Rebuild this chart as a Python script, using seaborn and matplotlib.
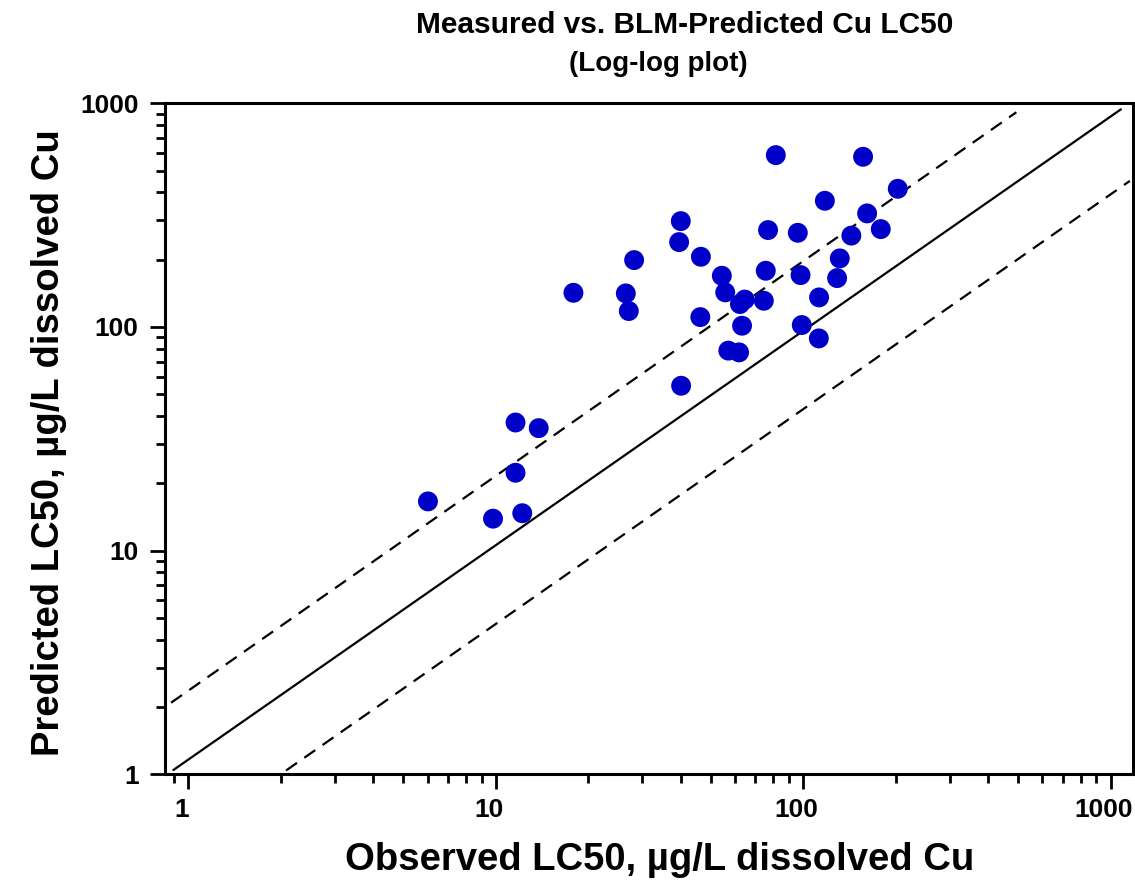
import matplotlib
matplotlib.use("Agg")
import matplotlib.pyplot as plt
import matplotlib.transforms as mtransforms
from matplotlib.ticker import LogLocator, FuncFormatter, NullFormatter
import pandas as pd
import seaborn as sns

# observed vs predicted LC50 (ug/L dissolved Cu)
observed = [81.5, 156.7, 203.2, 117.7, 40.0, 76.9, 96.1, 161.5, 178.9, 143.5,
            39.5, 28.2, 46.5, 131.6, 17.9, 26.5, 54.4, 75.6, 98.1, 129.0,
            55.8, 64.6, 62.3, 74.5, 112.7, 27.1, 46.3, 63.3, 99.0, 112.5,
            57.1, 61.9, 40.1, 11.6, 13.8, 11.6, 6.02, 9.8, 12.2]
predicted = [586.6, 576.6, 414.8, 366.6, 297.4, 271.2, 263.7, 321.9, 273.9, 256.2,
             239.6, 199.1, 206.0, 202.6, 142.2, 141.3, 169.4, 178.4, 170.6, 165.4,
             142.8, 132.6, 126.6, 131.0, 135.6, 117.8, 110.7, 101.3, 102.0, 88.9,
             78.4, 77.0, 54.6, 37.4, 35.3, 22.3, 16.6, 13.9, 14.7]

# reference lines (1:1 and factor of two), end points as drawn
line_1to1_x = [0.894, 1081]
line_1to1_y = [1.045, 940]
line_upper_x = [0.879, 494]
line_upper_y = [2.09, 912]
line_lower_x = [2.08, 1156]
line_lower_y = [1.04, 450]

x_ticks = [1, 10, 100, 1000]
y_ticks = [1, 10, 100, 1000]

df = pd.DataFrame({"observed": observed, "predicted": predicted})

sns.set_style("ticks")
plt.rcParams["font.family"] = ["Liberation Sans", "DejaVu Sans"]
plt.rcParams["font.weight"] = "bold"
plt.rcParams["text.color"] = "black"
plt.rcParams["axes.labelcolor"] = "black"
plt.rcParams["xtick.color"] = "black"
plt.rcParams["ytick.color"] = "black"

fig = plt.figure(figsize=(11.35, 8.83), dpi=100)
ax = fig.add_axes([0.1454, 0.1231, 0.8526, 0.7599])

ax.plot(line_1to1_x, line_1to1_y, color="black", lw=1.6, zorder=2)
ax.plot(line_upper_x, line_upper_y, color="black", lw=1.6, linestyle=(0, (6, 4)), zorder=2)
ax.plot(line_lower_x, line_lower_y, color="black", lw=1.6, linestyle=(0, (6, 4)), zorder=2)

sns.scatterplot(data=df, x="observed", y="predicted", s=205, color="#0000C8",
                edgecolor="none", ax=ax, zorder=3)

ax.set_xscale("log")
ax.set_yscale("log")
ax.set_xlim(0.84, 1181)
ax.set_ylim(1, 1000)

fmt = FuncFormatter(lambda v, p: f"{v:g}")
for axis, ticks in ((ax.xaxis, x_ticks), (ax.yaxis, y_ticks)):
    axis.set_major_locator(plt.FixedLocator(ticks))
    axis.set_major_formatter(fmt)
    axis.set_minor_locator(LogLocator(base=10, subs=range(2, 10)))
    axis.set_minor_formatter(NullFormatter())

ax.tick_params(which="major", length=11, width=2, labelsize=19)
ax.tick_params(which="minor", length=6.5, width=2)
ax.tick_params(axis="x", pad=6)
ax.tick_params(axis="y", pad=8)
for s in ax.spines.values():
    s.set_linewidth(2.2)
    s.set_color("black")

# x tick labels sit a little left of their ticks in the original
shift = mtransforms.ScaledTranslation(-7 / 100, 0, fig.dpi_scale_trans)
for lbl in ax.get_xticklabels():
    lbl.set_transform(lbl.get_transform() + shift)

ax.set_xlabel("Observed LC50, µg/L dissolved Cu", fontsize=27.5, fontweight="bold")
ax.set_ylabel("Predicted LC50, µg/L dissolved Cu", fontsize=27.5, fontweight="bold")
ax.xaxis.set_label_coords(0.5115, -0.101)
ax.yaxis.set_label_coords(-0.1013, 0.494)

fig.text(0.6035, 0.9717, "Measured vs. BLM-Predicted Cu LC50", ha="center", va="center",
         fontsize=21.5, fontweight="bold")
fig.text(0.58, 0.9275, "(Log-log plot)", ha="center", va="center",
         fontsize=20, fontweight="bold")

fig.savefig("out.png", dpi=100)
